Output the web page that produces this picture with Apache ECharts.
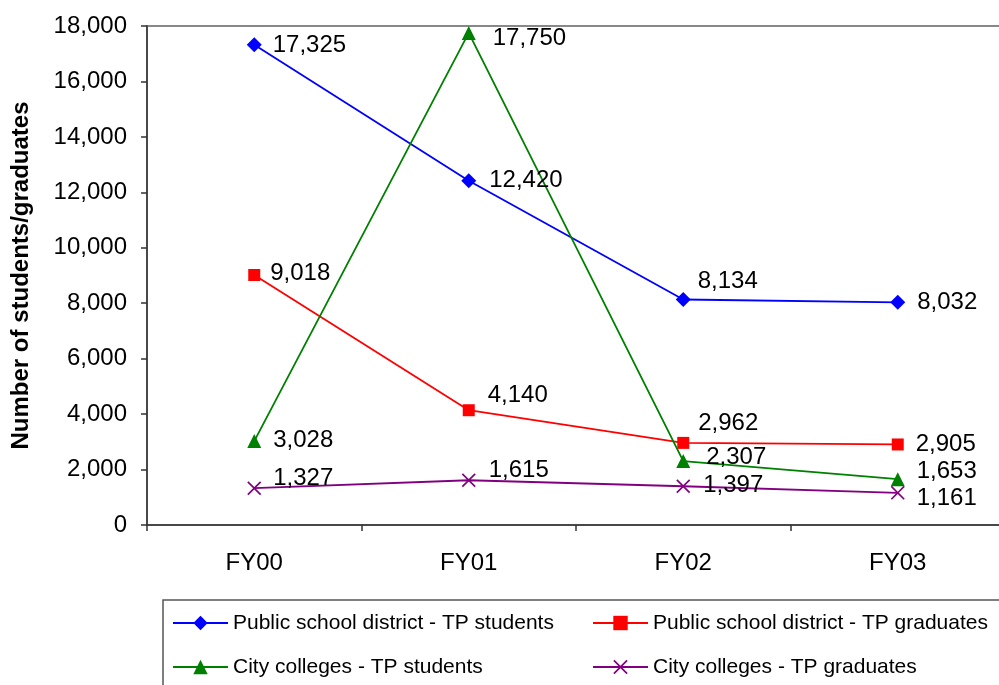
<!DOCTYPE html>
<html>
<head>
<meta charset="utf-8">
<script src="https://cdn.jsdelivr.net/npm/echarts@6/dist/echarts.min.js"></script>
<style>
  html, body { margin: 0; padding: 0; background: #fff; }
  #chart { width: 999px; height: 685px; }
</style>
</head>
<body>
<div id="chart"></div>
<script>
// Fiscal years on the category axis
const years = ['FY00', 'FY01', 'FY02', 'FY03'];

// Tech Prep enrolment and graduation counts
const schoolStudents  = [17325, 12420, 8134, 8032];
const schoolGraduates = [9018, 4140, 2962, 2905];
const collegeStudents = [3028, 17750, 2307, 1653];
const collegeGraduates = [1327, 1615, 1397, 1161];

const seriesNames = [
  'Public school district - TP students',
  'Public school district - TP graduates',
  'City colleges - TP students',
  'City colleges - TP graduates'
];

// Value-axis range
const yMin = 0, yMax = 18000, yStep = 2000;

// Nudges for data labels so overlapping numbers stay legible
const labelNudges = [
  [[-1, 1], [1, 0], [-5, -18], [0, 0]],
  [[-2, -2], [1, -15], [-3, -20], [0, 0]],
  [[0, -1], [5, 5], [4, -4], [0, -8]],
  [[0, -10], [1, -10], [1, -1], [0, 6]]
];

const FONT = 'Liberation Sans, Arial, sans-serif';
const fmt = v => Number(v).toLocaleString('en-US');
const crossPath = 'path://M0,1 L1,0 L6,5 L11,0 L12,1 L7,6 L12,11 L11,12 L6,7 L1,12 L0,11 L5,6 Z';

function makeSeries(name, values, color, symbol, size, nudges) {
  return {
    name: name,
    type: 'line',
    data: values.map((v, i) => ({
      value: v,
      label: { offset: nudges[i] }
    })),
    symbol: symbol,
    symbolSize: size,
    showAllSymbol: true,
    lineStyle: { color: color, width: 1.8 },
    itemStyle: { color: color, borderWidth: 0 },
    label: {
      show: true,
      position: 'right',
      distance: 12,
      color: '#000',
      fontFamily: FONT,
      fontSize: 24,
      formatter: p => fmt(p.value)
    },
    emphasis: { disabled: true },
    animation: false,
    z: 3
  };
}

const chart = echarts.init(document.getElementById('chart'), null, { renderer: 'canvas' });

const legendCommon = {
  orient: 'vertical',
  top: 612,
  padding: 0,
  itemWidth: 55,
  itemHeight: 18,
  itemGap: 22,
  selectedMode: false,
  textStyle: { fontFamily: FONT, fontSize: 21, color: '#000', lineHeight: 22 }
};

chart.setOption({
  backgroundColor: '#ffffff',
  animation: false,
  grid: {
    left: 147,
    top: 26,
    width: 858,
    height: 499,
    outerBoundsMode: 'none',
    containLabel: false,
    show: true,
    borderColor: '#888',
    borderWidth: 2,
    backgroundColor: 'transparent'
  },
  xAxis: {
    type: 'category',
    data: years,
    boundaryGap: true,
    axisLine: { lineStyle: { color: '#333', width: 1.5 } },
    axisTick: { show: true, length: 6, inside: false, lineStyle: { color: '#333', width: 1.5 } },
    axisLabel: { fontFamily: FONT, fontSize: 24, color: '#000', margin: 26 },
    splitLine: { show: false }
  },
  yAxis: {
    type: 'value',
    min: yMin,
    max: yMax,
    interval: yStep,
    name: 'Number of students/graduates',
    nameLocation: 'middle',
    nameGap: 114,
    nameTextStyle: { fontFamily: FONT, fontSize: 24, fontWeight: 'bold', color: '#000' },
    axisLine: { show: true, lineStyle: { color: '#333', width: 1.5 } },
    axisTick: { show: true, length: 6, inside: false, lineStyle: { color: '#333', width: 1.5 } },
    axisLabel: { fontFamily: FONT, fontSize: 24, color: '#000', margin: 20, formatter: v => fmt(v) },
    splitLine: { show: false }
  },
  legend: [
    Object.assign({ left: 172, data: [seriesNames[0], seriesNames[2]] }, legendCommon),
    Object.assign({ left: 592, data: [seriesNames[1], seriesNames[3]] }, legendCommon)
  ],
  graphic: [{
    type: 'rect',
    shape: { x: 163, y: 600, width: 900, height: 200 },
    style: { fill: 'none', stroke: '#555', lineWidth: 1.5 },
    silent: true,
    z: 0
  }],
  series: [
    makeSeries(seriesNames[0], schoolStudents, '#0000ff', 'diamond', 15, labelNudges[0]),
    makeSeries(seriesNames[1], schoolGraduates, '#ff0000', 'rect', 12, labelNudges[1]),
    makeSeries(seriesNames[2], collegeStudents, '#008000', 'triangle', 14, labelNudges[2]),
    makeSeries(seriesNames[3], collegeGraduates, '#800080', crossPath, 14, labelNudges[3])
  ]
});
</script>
</body>
</html>
